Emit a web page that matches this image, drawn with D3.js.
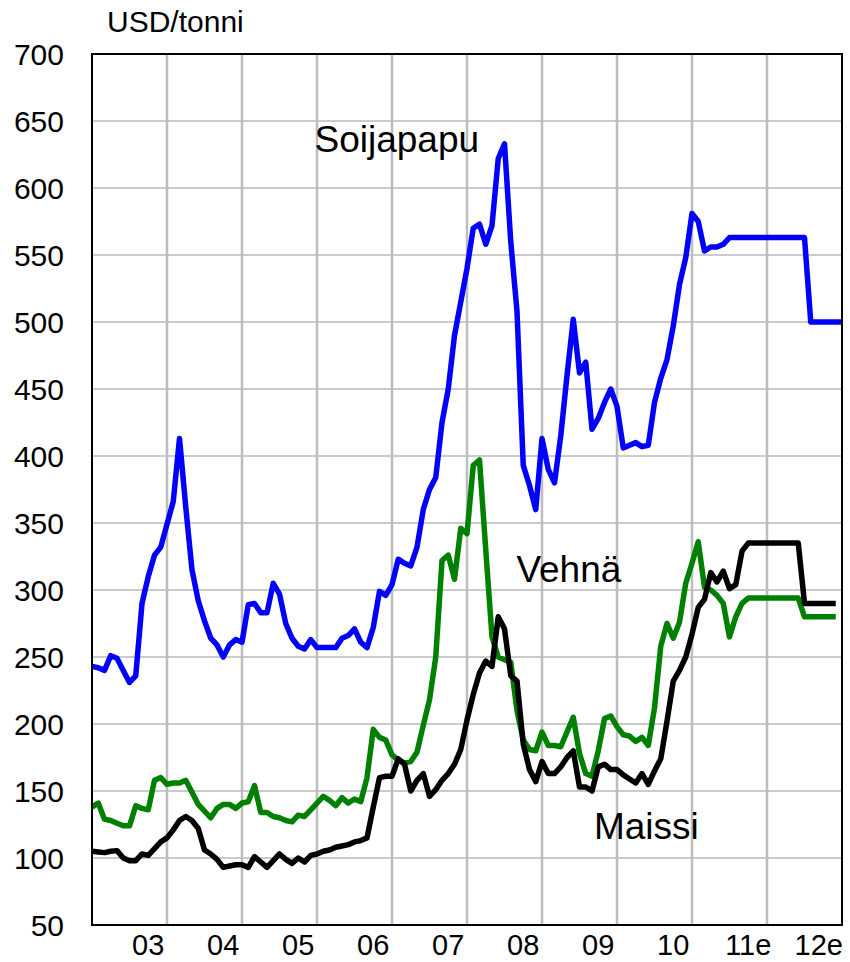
<!DOCTYPE html>
<html><head><meta charset="utf-8">
<script src="https://cdn.jsdelivr.net/npm/d3@7"></script>
<style>body{margin:0;background:#fff}svg{display:block}text{font-family:"Liberation Sans",Arial,sans-serif;fill:#000}</style>
</head><body><svg id="c" width="850" height="962"></svg>
<script>
// monthly prices, USD/tonne (index 0 .. 119)
const soy = [243,242,240,251,249,240,231,236,290,310,326,332,349,366,413,362,315,292,277,264,259,250,259,263,261,289,290,283,283,305,297,275,264,258,256,263,257,257,257,257,264,266,271,261,257,272,299,296,304,323,320,318,332,360,375,384,425,450,490,515,540,570,573,558,572,622,633,560,508,393,378,360,413,390,380,415,460,502,462,470,420,428,440,450,437,406,408,410,407,408,440,458,472,497,528,548,581,575,553,556,556,558,563,563,563,563,563,563,563,563,563,563,563,563,563,500,500,500,500,500,500];
const wheat = [138,141,129,128,126,124,124,139,137,136,158,160,155,156,156,158,149,140,135,130,137,140,140,137,141,142,154,134,134,131,130,128,127,132,131,136,141,146,143,139,145,141,144,142,160,196,190,188,177,173,171,172,179,199,218,250,322,326,308,346,342,393,397,330,265,250,248,246,210,188,181,180,194,184,184,183,194,205,178,163,161,180,204,206,198,192,191,187,190,184,212,258,275,264,276,305,320,336,302,300,296,290,265,280,290,294,294,294,294,294,294,294,294,294,280,280,280,280,280,280];
const maize = [105,104.5,104,105,105.5,100,98,98,103,102,107,112,115,121,128,131,128,122,106,103,99,93,94,95,95,93,101,97,93,98,103,99,96,100,97,102,103,105,106,108,109,110,112,113,115,138,160,161,161,174,170,150,158,163,146,151,158,163,170,181,203,222,238,247,243,280,271,236,232,185,166,157,172,163,163,168,175,180,153,153,150,168,170,166,166,162,159,156,163,155,165,174,202,232,240,250,267,287,293,313,306,314,301,304,329,335,335,335,335,335,335,335,335,335,290,290,290,290,290,290];
const yTicks = [50,100,150,200,250,300,350,400,450,500,550,600,650,700];
const xLabels = ["03","04","05","06","07","08","09","10","11e","12e"];
const unitLabel = "USD/tonni";
const seriesNames = ["Soijapapu","Vehnä","Maissi"];
const seriesColors = ["#0000ff","#008000","#000000"];
// label anchors in data coordinates (month index, value)
const labelMonth = [35.6, 67.9, 80.3];
const labelValue = [627, 306, 114];

const svg = d3.select("#c");
const L = 92, R = 842, T = 54, B = 925;
const n = soy.length;
const x = d3.scaleLinear().domain([0, n - 1]).range([L, R]);
const y = d3.scaleLinear().domain([50, 700]).range([B, T]);

// horizontal grid
svg.append("g").selectAll("line").data(yTicks.filter(v => v > 50 && v < 700)).join("line")
  .attr("x1", L).attr("x2", R).attr("y1", d => y(d)).attr("y2", d => y(d))
  .attr("stroke", "#cbcbcb").attr("stroke-width", 2);
// vertical grid at year boundaries
const yearBounds = d3.range(12, n - 1, 12);
svg.append("g").selectAll("line").data(yearBounds).join("line")
  .attr("x1", d => x(d)).attr("x2", d => x(d)).attr("y1", T).attr("y2", B)
  .attr("stroke", "#bdbdbd").attr("stroke-width", 2.5);

// lines
const line = d3.line().x((d, i) => x(i)).y(d => y(d));
[soy, wheat, maize].forEach((s, k) => {
  svg.append("path").datum(s).attr("d", line).attr("fill", "none")
    .attr("stroke", seriesColors[k]).attr("stroke-width", 5.5)
    .attr("stroke-linejoin", "round").attr("stroke-linecap", "butt");
});

// border
svg.append("rect").attr("x", L).attr("y", T).attr("width", R - L).attr("height", B - T)
  .attr("fill", "none").attr("stroke", "#000").attr("stroke-width", 2);

// y labels
svg.append("g").selectAll("text").data(yTicks).join("text")
  .attr("x", 64).attr("y", d => y(d) + 11).attr("text-anchor", "end")
  .attr("font-size", 30).text(d => d);

// x labels
svg.append("g").selectAll("text").data(xLabels).join("text")
  .attr("font-size", 29).attr("text-anchor", "middle").attr("y", 955)
  .text(d => d)
  .attr("x", function(d, i) {
    const w = this.getComputedTextLength();
    return Math.min(x(12 * (i + 1) - 3), R + 1 - w / 2);
  });

svg.append("text").attr("x", 107).attr("y", 32).attr("font-size", 30).text(unitLabel);

// series labels
seriesNames.forEach((s, k) => {
  svg.append("text").attr("x", x(labelMonth[k])).attr("y", y(labelValue[k]))
    .attr("font-size", 37).text(s);
});
</script></body></html>
